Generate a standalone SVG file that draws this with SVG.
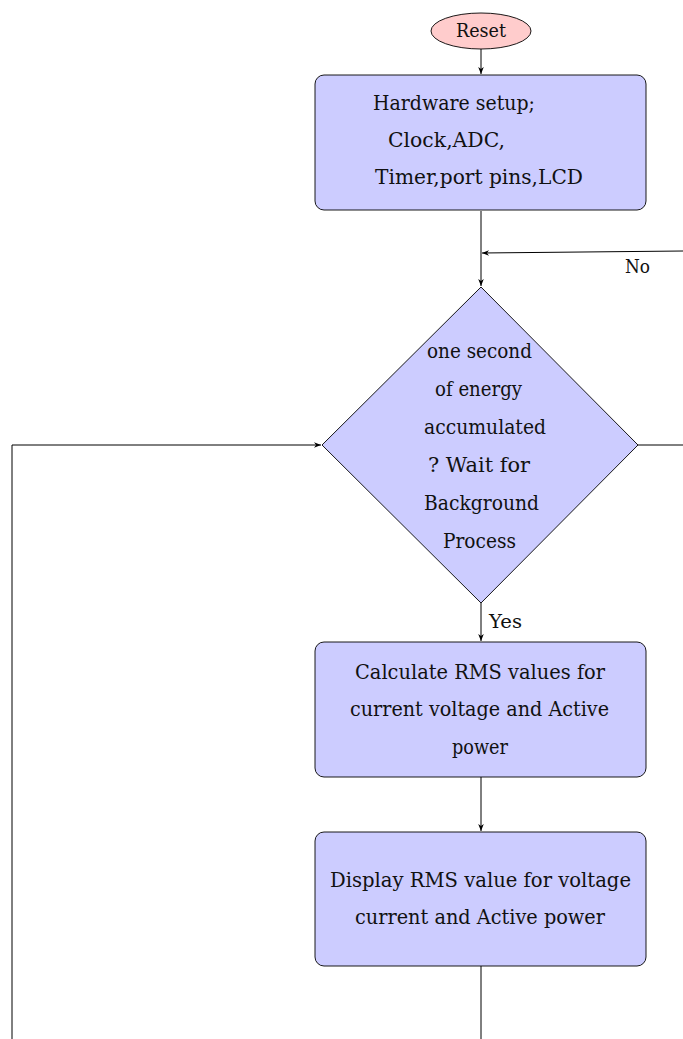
<svg xmlns="http://www.w3.org/2000/svg" width="683" height="1039" viewBox="0 0 683 1039">
<style>
  .node { fill: #ccccff; stroke: #000; stroke-width: 0.9; }
  .start { fill: #ffcccc; stroke: #000; stroke-width: 0.9; }
  .t { font-size: 21px; fill: #111; }
  .lbl { font-size: 18px; fill: #111; }
  .edge { fill: none; stroke: #000; stroke-width: 1; }
</style>
<defs>
  <marker id="arr" viewBox="0 0 10 10" refX="10" refY="5" markerWidth="7" markerHeight="7" markerUnits="userSpaceOnUse" orient="auto">
    <path d="M0,1 L10,5 L0,9 L3,5 Z" fill="#000"/>
  </marker>
</defs>
<rect width="683" height="1039" fill="#fff"/>
<g font-family="'DejaVu Serif', 'Liberation Serif', serif">
<g id="connectors">
  <line class="edge" x1="481" y1="49" x2="481" y2="74" marker-end="url(#arr)"/>
  <line class="edge" x1="481" y1="211" x2="481" y2="286" marker-end="url(#arr)"/>
  <polyline class="edge" points="683,251 482,253" marker-end="url(#arr)"/>
  <line class="edge" x1="638" y1="445" x2="683" y2="445"/>
  <line class="edge" x1="481" y1="603" x2="481" y2="641" marker-end="url(#arr)"/>
  <line class="edge" x1="481" y1="777" x2="481" y2="831" marker-end="url(#arr)"/>
  <line class="edge" x1="481" y1="966" x2="481" y2="1039"/>
  <polyline class="edge" points="12,1039 12,445 321,445" marker-end="url(#arr)"/>
  <text class="lbl" x="625" y="273" textLength="25" lengthAdjust="spacingAndGlyphs">No</text>
  <text class="lbl" x="489" y="628" textLength="33" lengthAdjust="spacingAndGlyphs">Yes</text>
</g>

<g id="reset">
  <ellipse class="start" cx="481" cy="31" rx="50" ry="18"/>
  <text class="lbl" x="456" y="37" textLength="50" lengthAdjust="spacingAndGlyphs">Reset</text>
</g>

<g id="setup">
  <rect class="node" x="315" y="75" width="331" height="135" rx="9"/>
  <text class="t" x="373" y="110" textLength="162" lengthAdjust="spacingAndGlyphs">Hardware setup;</text>
  <text class="t" x="388" y="147" textLength="117" lengthAdjust="spacingAndGlyphs">Clock,ADC,</text>
  <text class="t" x="375" y="184" textLength="208" lengthAdjust="spacingAndGlyphs">Timer,port pins,LCD</text>
</g>

<g id="decision">
  <polygon class="node" points="481,287 638,445 481,603 322,445"/>
  <text class="t" x="427" y="358" textLength="105" lengthAdjust="spacingAndGlyphs">one second</text>
  <text class="t" x="435" y="396" textLength="87" lengthAdjust="spacingAndGlyphs">of energy</text>
  <text class="t" x="424" y="434" textLength="122" lengthAdjust="spacingAndGlyphs">accumulated</text>
  <text class="t" x="428" y="472" textLength="102" lengthAdjust="spacingAndGlyphs">? Wait for</text>
  <text class="t" x="424" y="510" textLength="115" lengthAdjust="spacingAndGlyphs">Background</text>
  <text class="t" x="443" y="548" textLength="73" lengthAdjust="spacingAndGlyphs">Process</text>
</g>

<g id="calculate">
  <rect class="node" x="315" y="642" width="331" height="135" rx="9"/>
  <text class="t" x="355" y="679" textLength="250" lengthAdjust="spacingAndGlyphs">Calculate RMS values for</text>
  <text class="t" x="350" y="716" textLength="259" lengthAdjust="spacingAndGlyphs">current voltage and Active</text>
  <text class="t" x="452" y="754" textLength="56" lengthAdjust="spacingAndGlyphs">power</text>
</g>

<g id="display">
  <rect class="node" x="315" y="832" width="331" height="134" rx="9"/>
  <text class="t" x="330" y="887" textLength="301" lengthAdjust="spacingAndGlyphs">Display RMS value for voltage</text>
  <text class="t" x="355" y="924" textLength="250" lengthAdjust="spacingAndGlyphs">current and Active power</text>
</g>
</g>
</svg>
